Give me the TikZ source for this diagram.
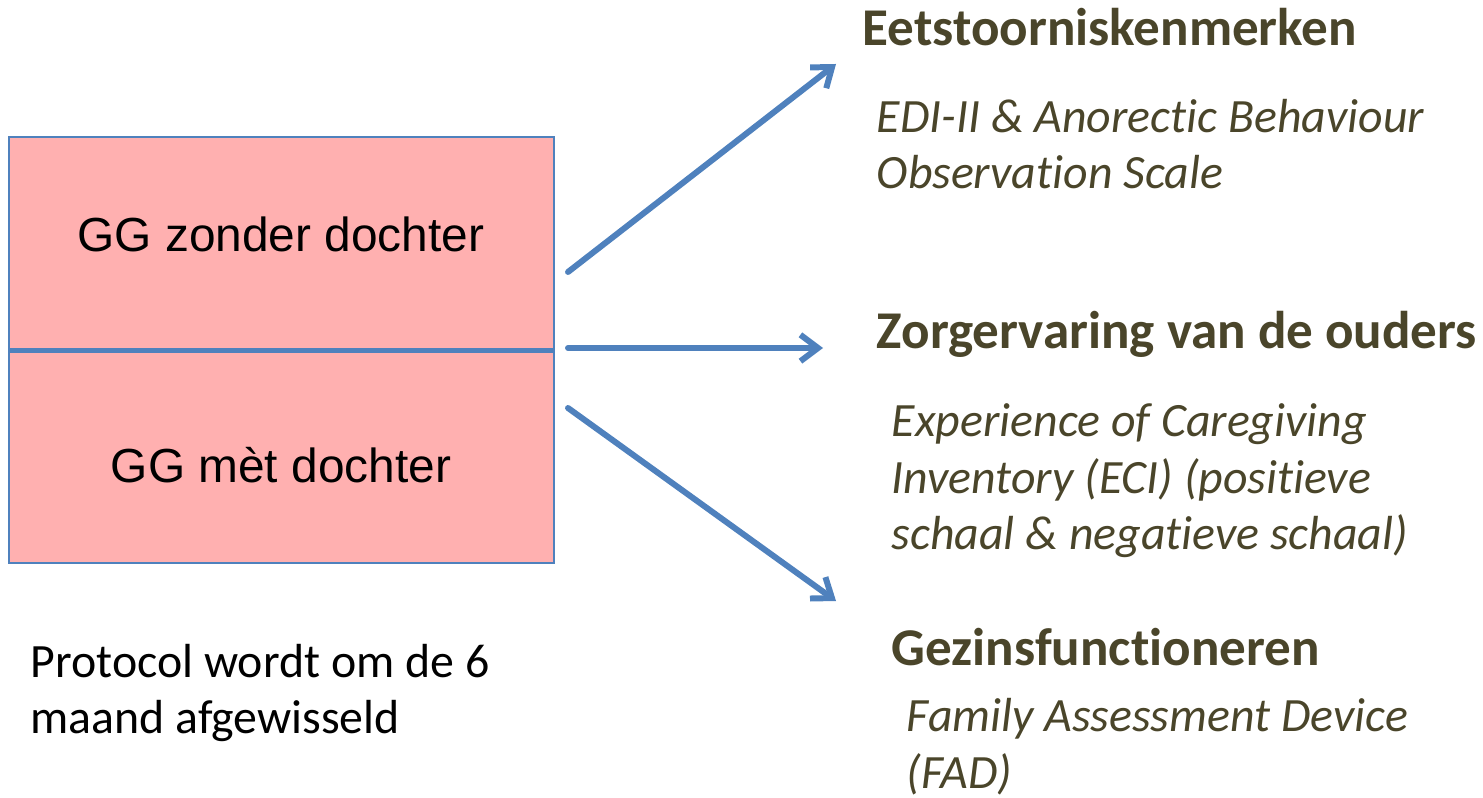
\documentclass[tikz,border=0pt]{standalone}
\usepackage{fontspec}
\setmainfont{Carlito}[Ligatures=NoCommon]
\newfontfamily\arialfont{Liberation Sans}
\usetikzlibrary{arrows.meta}
\definecolor{boxpink}{HTML}{FFB0B0}
\definecolor{boxblue}{HTML}{4F81BD}
\definecolor{olive}{HTML}{4A452A}

\begin{document}
\begin{tikzpicture}[x=0.01cm,y=-0.01cm,
    group box/.style={
      draw=boxblue, line width=0.5pt, fill=boxpink,
      minimum width=5.45cm, minimum height=2.13cm, inner sep=0pt,
    },
    box label/.style={anchor=base, inner sep=0pt, font=\arialfont\fontsize{13.6}{16}\selectfont},
    title/.style={anchor=base west, inner sep=0pt, text=olive, font=\fontsize{15.1}{18}\selectfont\bfseries},
    measure/.style={anchor=base west, inner sep=0pt, text=olive, align=left, font=\fontsize{13.6}{16.2}\selectfont\itshape},
    flow/.style={
      draw=boxblue, line width=1.7pt, line cap=round,
      -{Straight Barb[length=5pt,width=7.5pt]},
    }]
  \useasboundingbox (0,0) rectangle (1483,798);
  \node[group box, anchor=north west] (zonder) at (8,136) {};
  \node[group box, anchor=north west] (met) at (8,349) {};
  \draw[boxblue, line width=1.4pt] (zonder.south west) -- (zonder.south east);
  \node[box label] (zonder label) at (281,252) {GG zonder dochter};
  \node[box label] (met label) at (281,483) {GG m\`et dochter};
  % base anchor of a multi-line node sits on its last line
  \node[anchor=base west, inner sep=0pt, align=left, font=\fontsize{13.6}{15.9}\selectfont] (protocol) at (30,733)
    {Protocol wordt om de 6\\maand afgewisseld};
  \node[title] (eet) at (862,46) {Eetstoorniskenmerken};
  \node[measure] (eet measure) at (876,189) {EDI-II \& Anorectic Behaviour\\Observation Scale};
  \node[title] (zorg) at (876,349) {Zorgervaring van de ouders};
  \node[measure] (zorg measure) at (891,550) {Experience of Caregiving\\Inventory (ECI) (positieve\\schaal \& negatieve schaal)};
  \node[title] (gezin) at (891,665) {Gezinsfunctioneren};
  \node[measure] (gezin measure) at (906,788) {Family Assessment Device\\(FAD)};
  \coordinate (s1) at (568,272);
  \coordinate (s2) at (568,348);
  \coordinate (s3) at (568,408);
  \coordinate (e1) at (836,64);
  \coordinate (e2) at (823,348);
  \coordinate (e3) at (836,601);
  \draw[flow] (s1) -- (e1);
  \draw[flow] (s2) -- (e2);
  \draw[flow] (s3) -- (e3);
\end{tikzpicture}
\end{document}
